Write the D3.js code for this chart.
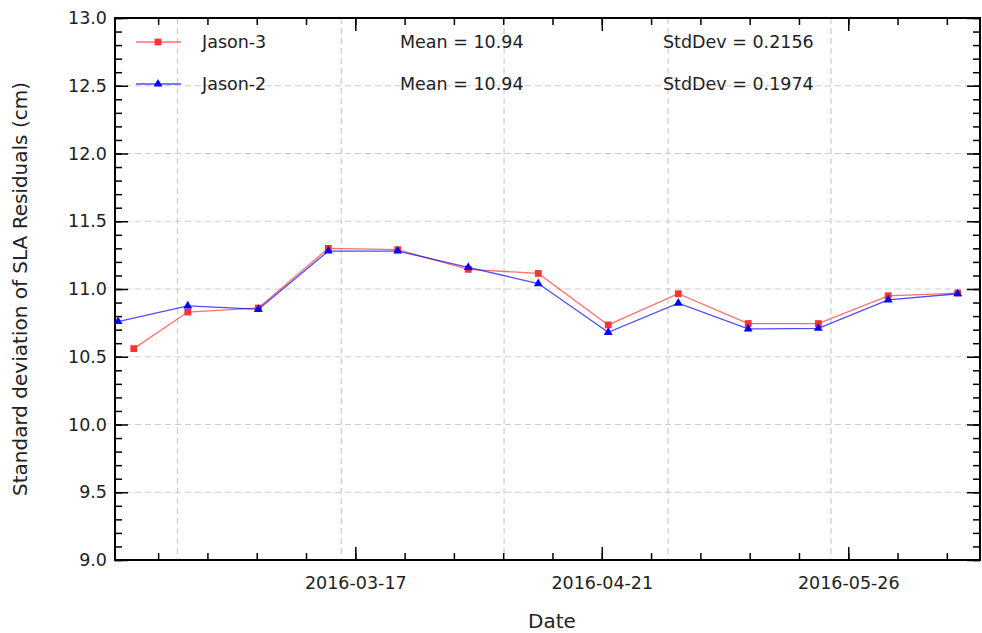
<!DOCTYPE html>
<html>
<head>
<meta charset="utf-8">
<script src="https://cdn.jsdelivr.net/npm/d3@7"></script>
<style>
  body { margin: 0; background: #fff; }
  svg { display: block; }
  svg text { font-family: "DejaVu Sans", sans-serif; fill: #222; }
</style>
</head>
<body>
<svg id="chart" width="982" height="633"></svg>
<script>
'use strict';

// dates of each cycle (same for both missions except the first point)
const jason3Dates = ['2016-02-14T13:00', '2016-02-22T05:00', '2016-03-03T05:30', '2016-03-13T04:00',
  '2016-03-23T00:30', '2016-04-02T01:00', '2016-04-11T23:30', '2016-04-21T22:00', '2016-05-01T20:40',
  '2016-05-11T19:00', '2016-05-21T18:00', '2016-05-31T16:00', '2016-06-10T13:00'];
const jason3Values = [10.56, 10.83, 10.86, 11.30, 11.29, 11.145, 11.115, 10.735, 10.965, 10.745, 10.745, 10.95, 10.97];

const jason2Dates = ['2016-02-12T07:30', '2016-02-22T05:00', '2016-03-03T05:30', '2016-03-13T04:00',
  '2016-03-23T00:30', '2016-04-02T01:00', '2016-04-11T23:30', '2016-04-21T22:00', '2016-05-01T20:40',
  '2016-05-11T19:00', '2016-05-21T18:00', '2016-05-31T16:00', '2016-06-10T13:00'];
const jason2Values = [10.76, 10.875, 10.85, 11.28, 11.28, 11.16, 11.04, 10.68, 10.895, 10.705, 10.71, 10.92, 10.965];

const xDomain = ['2016-02-11T21:00', '2016-06-13T17:00'];
const xMajorTicks = ['2016-03-17T00:00', '2016-04-21T00:00', '2016-05-26T00:00'];
const xGridDates = ['2016-02-20T18:00', '2016-03-15T00:00', '2016-04-07T03:00', '2016-04-30T10:00', '2016-05-23T13:00'];
const yMajorTicks = [9.0, 9.5, 10.0, 10.5, 11.0, 11.5, 12.0, 12.5, 13.0];

const legendNames = ['Jason-3', 'Jason-2'];
const legendMeans = ['Mean = 10.94', 'Mean = 10.94'];
const legendStds = ['StdDev = 0.2156', 'StdDev = 0.1974'];

const parse = d3.timeParse('%Y-%m-%dT%H:%M');

const svg = d3.select('#chart');
const width = 982;
const height = 633;
const marg = { left: 115, right: 2, top: 18, bottom: 73 };
const x0 = marg.left, x1 = width - marg.right;
const y0 = height - marg.bottom, y1 = marg.top;

const xScale = d3.scaleTime().domain(xDomain.map(parse)).range([x0, x1]);
const yScale = d3.scaleLinear().domain([9, 13]).range([y0, y1]);

const series = [
  { name: 'Jason-3', color: '#ff3333', data: jason3Dates.map((d, i) => ({ date: parse(d), v: jason3Values[i] })) },
  { name: 'Jason-2', color: '#0000ff', data: jason2Dates.map((d, i) => ({ date: parse(d), v: jason2Values[i] })) },
];

// grid lines
const grid = svg.append('g')
  .attr('stroke', '#cccccc')
  .attr('stroke-width', 1.2)
  .attr('stroke-dasharray', '6,4');
grid.selectAll('line.h').data(yMajorTicks.slice(1, -1)).join('line')
  .attr('x1', x0).attr('x2', x1)
  .attr('y1', d => yScale(d)).attr('y2', d => yScale(d));
grid.selectAll('line.v').data(xGridDates.map(parse)).join('line')
  .attr('x1', d => xScale(d)).attr('x2', d => xScale(d))
  .attr('y1', y1).attr('y2', y0);

// axes with inward ticks on all sides
const minorX = d3.timeThursday.range(...xScale.domain());
const majorX = xMajorTicks.map(parse);
const minorY = d3.range(90, 131).map(d => d / 10);
const fmtDate = d3.timeFormat('%Y-%m-%d');

function tickStyle(g) {
  g.attr('font-family', null).attr('font-size', null);
  g.select('.domain').remove();
  g.selectAll('line').attr('stroke', '#000').attr('stroke-width', 1.5);
  g.selectAll('text').attr('fill', null).style('font-size', '17.5px');
}

svg.append('g').attr('transform', `translate(0,${y0})`)
  .call(d3.axisBottom(xScale).tickValues(minorX).tickSize(-7).tickFormat(''))
  .call(tickStyle);
svg.append('g').attr('transform', `translate(0,${y0})`)
  .call(d3.axisBottom(xScale).tickValues(majorX).tickSize(-13).tickPadding(17).tickFormat(fmtDate))
  .call(tickStyle);
svg.append('g').attr('transform', `translate(0,${y1})`)
  .call(d3.axisTop(xScale).tickValues(minorX).tickSize(-7).tickFormat(''))
  .call(tickStyle);
svg.append('g').attr('transform', `translate(0,${y1})`)
  .call(d3.axisTop(xScale).tickValues(majorX).tickSize(-13).tickFormat(''))
  .call(tickStyle);

svg.append('g').attr('transform', `translate(${x0},0)`)
  .call(d3.axisLeft(yScale).tickValues(minorY).tickSize(-7).tickFormat(''))
  .call(tickStyle);
svg.append('g').attr('transform', `translate(${x0},0)`)
  .call(d3.axisLeft(yScale).tickValues(yMajorTicks).tickSize(-13).tickPadding(8).tickFormat(d3.format('.1f')))
  .call(tickStyle);
svg.append('g').attr('transform', `translate(${x1},0)`)
  .call(d3.axisRight(yScale).tickValues(minorY).tickSize(-7).tickFormat(''))
  .call(tickStyle);
svg.append('g').attr('transform', `translate(${x1},0)`)
  .call(d3.axisRight(yScale).tickValues(yMajorTicks).tickSize(-13).tickFormat(''))
  .call(tickStyle);

// frame
svg.append('rect')
  .attr('x', x0).attr('y', y1)
  .attr('width', x1 - x0).attr('height', y0 - y1)
  .attr('fill', 'none').attr('stroke', '#000').attr('stroke-width', 2);

// lines and markers
const line = d3.line().x(d => xScale(d.date)).y(d => yScale(d.v));
const sq = d3.symbol().type(d3.symbolSquare).size(46);
const tri = d3.symbol().type(d3.symbolTriangle).size(34);

series.forEach((s, k) => {
  svg.append('path')
    .datum(s.data)
    .attr('fill', 'none')
    .attr('stroke', s.color)
    .attr('stroke-opacity', 0.7)
    .attr('stroke-width', 1.3)
    .attr('d', line);
  svg.append('g').selectAll('path').data(s.data).join('path')
    .attr('transform', d => `translate(${xScale(d.date)},${yScale(d.v)})`)
    .attr('d', k === 0 ? sq : tri)
    .attr('fill', s.color);
});

// legend
const legY = [42, 84];
series.forEach((s, k) => {
  const g = svg.append('g').attr('transform', `translate(0,${legY[k]})`);
  g.append('line').attr('x1', 136).attr('x2', 181).attr('y1', 0).attr('y2', 0)
    .attr('stroke', s.color).attr('stroke-opacity', 0.7).attr('stroke-width', 1.3);
  g.append('path').attr('transform', 'translate(158,0)').attr('d', k === 0 ? sq : tri).attr('fill', s.color);
  g.append('text').attr('x', 202).attr('dy', '0.36em').text(legendNames[k]);
  g.append('text').attr('x', 400).attr('dy', '0.36em').text(legendMeans[k]);
  g.append('text').attr('x', 663).attr('dy', '0.36em').text(legendStds[k]);
  g.selectAll('text').style('font-size', '17.5px');
});

// axis titles
svg.append('text')
  .attr('x', 552).attr('y', 628)
  .attr('text-anchor', 'middle').style('font-size', '20px')
  .text('Date');
svg.append('text')
  .attr('transform', `translate(27,${(y0 + y1) / 2}) rotate(-90)`)
  .attr('text-anchor', 'middle').style('font-size', '20px')
  .text('Standard deviation of SLA Residuals (cm)');
</script>
</body>
</html>
